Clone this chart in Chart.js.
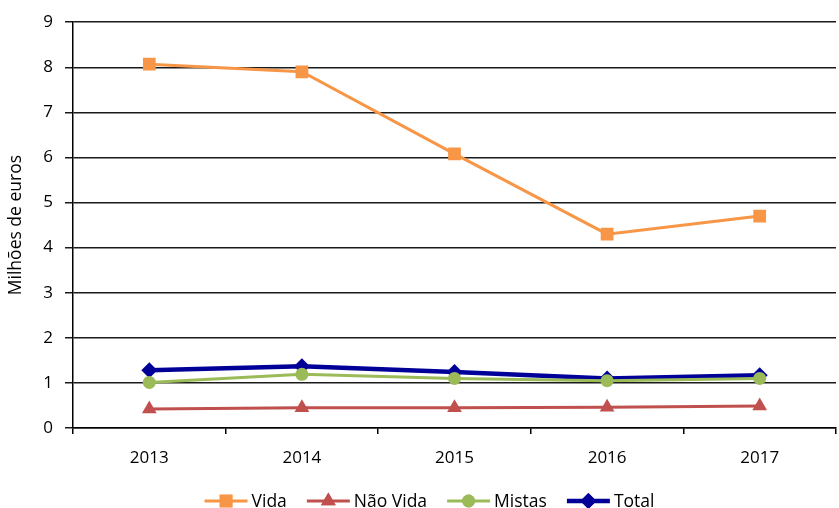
<!DOCTYPE html>
<html lang="pt">
<head>
<meta charset="UTF-8">
<title>Milhões de euros</title>
<script src="https://cdn.jsdelivr.net/npm/chart.js"></script>
<style>
  html, body { margin: 0; padding: 0; background: #fff; }
  #wrap { width: 839px; height: 508px; }
</style>
</head>
<body>
<div id="wrap"><canvas id="chart" width="839" height="508"></canvas></div>
<script>
// data
const years = ['2013', '2014', '2015', '2016', '2017'];
const vida = [8.07, 7.9, 6.08, 4.3, 4.7];
const naoVida = [0.42, 0.45, 0.45, 0.46, 0.49];
const mistas = [1.01, 1.19, 1.1, 1.05, 1.1];
const total = [1.28, 1.37, 1.24, 1.1, 1.17];
const yTicks = [0, 1, 2, 3, 4, 5, 6, 7, 8, 9];

const FONT = "'Open Sans', 'Liberation Sans', sans-serif";

function series(label, data, color, style, radius, width) {
  return {
    label: label,
    data: data,
    borderColor: color,
    backgroundColor: color,
    borderWidth: width,
    pointStyle: style,
    pointRadius: radius,
    pointHoverRadius: radius,
    pointBorderWidth: 0,
    tension: 0
  };
}

// bottom legend: line with marker in the middle, like the spreadsheet one
const bottomLegend = {
  id: 'bottomLegend',
  afterDraw(chart) {
    const ctx = chart.ctx;
    ctx.save();
    ctx.font = '17.5px ' + FONT;
    ctx.textBaseline = 'middle';
    const lineLen = 43, gap = 4, spacing = 20;
    const items = chart.data.datasets;
    let w = 0;
    items.forEach((d, i) => {
      w += lineLen + gap + ctx.measureText(d.label).width;
      if (i < items.length - 1) w += spacing;
    });
    let x = (chart.width - w) / 2 + 10;
    const y = 501;
    items.forEach(d => {
      ctx.strokeStyle = d.borderColor;
      ctx.lineWidth = d.borderWidth;
      ctx.beginPath();
      ctx.moveTo(x, y);
      ctx.lineTo(x + lineLen, y);
      ctx.stroke();
      ctx.fillStyle = d.backgroundColor;
      Chart.helpers.drawPoint(ctx, { pointStyle: d.pointStyle, radius: d.pointRadius, borderWidth: 0 }, x + lineLen / 2, y);
      ctx.fill();
      ctx.fillStyle = '#000';
      ctx.fillText(d.label, x + lineLen + gap, y + 1);
      x += lineLen + gap + ctx.measureText(d.label).width + spacing;
    });
    ctx.restore();
  }
};

new Chart(document.getElementById('chart'), {
  type: 'line',
  data: {
    labels: years,
    datasets: [
      series('Vida', vida, '#F79646', 'rect', 9, 3),
      series('Não Vida', naoVida, '#C0504D', 'triangle', 8.5, 3),
      series('Mistas', mistas, '#9BBB59', 'circle', 6.5, 3),
      series('Total', total, '#000099', 'rectRot', 8, 4.5)
    ]
  },
  options: {
    responsive: false,
    animation: false,
    layout: { autoPadding: false, padding: { top: 20, right: 3, left: 0, bottom: 0 } },
    plugins: {
      legend: { display: false },
      tooltip: { enabled: false }
    },
    scales: {
      x: {
        offset: true,
        afterFit: s => { s.height = 80; s.paddingLeft = 0; s.paddingRight = 0; },
        grid: { offset: true, drawOnChartArea: false, tickLength: 6, color: '#000', lineWidth: 1.5 },
        border: { color: '#000', width: 1.5 },
        ticks: { color: '#000', font: { family: FONT, size: 17 }, padding: 14 }
      },
      y: {
        min: 0,
        max: 9,
        afterFit: s => { s.width = 73; },
        afterBuildTicks: s => { s.ticks = yTicks.map(v => ({ value: v })); },
        grid: { color: '#1a1a1a', lineWidth: 1.5, tickLength: 8 },
        border: { color: '#000', width: 1.5 },
        ticks: { color: '#000', font: { family: FONT, size: 17 }, padding: 12 },
        title: {
          display: true,
          text: 'Milhões de euros',
          color: '#000',
          font: { family: FONT, size: 17.5 },
          padding: { top: 6, bottom: 0 }
        }
      }
    }
  },
  plugins: [bottomLegend]
});
</script>
</body>
</html>
